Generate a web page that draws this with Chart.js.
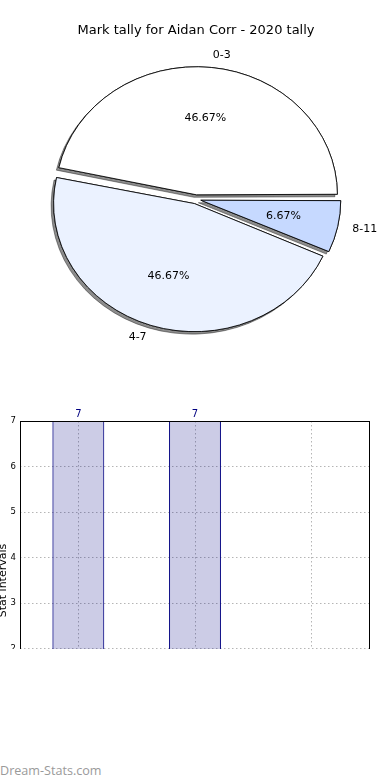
<!DOCTYPE html>
<html>
<head>
<meta charset="utf-8">
<script src="https://cdn.jsdelivr.net/npm/chart.js@4"></script>
<style>
  html, body { margin: 0; padding: 0; background: #fff; }
  body { width: 390px; height: 780px; position: relative; overflow: hidden; font-family: "DejaVu Sans", sans-serif; }
  #pieBox { position: absolute; left: 0; top: 0; width: 390px; height: 360px; }
  #barClip { position: absolute; left: 0; top: 380px; width: 390px; height: 269px; overflow: hidden; }
  #barBox { position: absolute; left: 0; top: 0; width: 390px; height: 400px; }
  #mark { position: absolute; left: 0; top: 762px; font: 12.6px "Open Sans", sans-serif; color: #9a9a9a; }
</style>
</head>
<body>
<div id="pieBox"><canvas id="pie"></canvas></div>
<div id="barClip"><div id="barBox"><canvas id="bar"></canvas></div></div>
<div id="mark">Dream-Stats.com</div>
<script>
const titleText = 'Mark tally for Aidan Corr - 2020 tally';
const categories = ['0-3', '4-7', '8-11'];
const tallies = [7, 7, 1];
const sliceColors = ['#ffffff', '#ebf2ff', '#c6d9ff'];
const yTicks = [0, 1, 2, 3, 4, 5, 6, 7];

// pie is squashed a little wider than tall
const stretchX = 1.1;
const total = tallies.reduce((a, b) => a + b, 0);

// matplotlib draws counter-clockwise from 3 o'clock; chart.js goes clockwise,
// so feed the slices reversed and start at 90 degrees
const rev = a => a.slice().reverse();

const ellipse = {
  id: 'ellipse',
  beforeDatasetsDraw(chart) {
    const ctx = chart.ctx;
    const a = chart.chartArea;
    const cx = (a.left + a.right) / 2;
    ctx.save();
    ctx.translate(cx, 0);
    ctx.scale(stretchX, 1);
    ctx.translate(-cx, 0);
    // shadow pass first, the normal pass then covers the inner part
    ctx.save();
    ctx.shadowColor = 'rgba(0,0,0,0.45)';
    ctx.shadowOffsetX = -2.5;
    ctx.shadowOffsetY = 2.5;
    ctx.shadowBlur = 0;
    chart.getDatasetMeta(0).data.forEach(arc => arc.draw(ctx));
    ctx.restore();
  },
  afterDatasetsDraw(chart) {
    chart.ctx.restore();
  },
  afterDraw(chart) {
    const ctx = chart.ctx;
    const meta = chart.getDatasetMeta(0);
    const a = chart.chartArea;
    const cx = (a.left + a.right) / 2;
    const vals = chart.data.datasets[0].data;
    const labs = chart.data.labels;
    ctx.save();
    ctx.fillStyle = '#000';
    ctx.font = '11px "DejaVu Sans"';
    ctx.textBaseline = 'middle';
    meta.data.forEach((arc, i) => {
      const mid = (arc.startAngle + arc.endAngle) / 2;
      const r = arc.outerRadius + 3.5;
      const off = 4.5;
      const ox = Math.cos(mid) * off, oy = Math.sin(mid) * off;
      const px = (x) => cx + (x - cx) * stretchX;
      // percentage
      ctx.textAlign = 'center';
      ctx.fillText((vals[i] / total * 100).toFixed(2) + '%',
        px(arc.x + ox + Math.cos(mid) * r * 0.6), arc.y + oy + Math.sin(mid) * r * 0.6);
      // category label
      const lx = px(arc.x + ox + Math.cos(mid) * r * 1.1);
      ctx.textAlign = Math.cos(mid) > 0 ? 'left' : 'right';
      ctx.fillText(labs[i], lx, arc.y + oy + Math.sin(mid) * r * 1.1);
    });
    ctx.restore();
  }
};

new Chart(document.getElementById('pie'), {
  type: 'pie',
  data: {
    labels: rev(categories),
    datasets: [{
      data: rev(tallies),
      backgroundColor: rev(sliceColors),
      borderColor: '#000',
      borderWidth: 0.8,
      offset: 18
    }]
  },
  options: {
    responsive: true,
    maintainAspectRatio: false,
    animation: false,
    rotation: 90,
    radius: 124.5,
    layout: { padding: { left: 2 } },
    plugins: {
      legend: { display: false },
      tooltip: { enabled: false },
      title: {
        display: true,
        text: titleText,
        color: '#000',
        font: { family: 'DejaVu Sans', size: 13, weight: 'normal' },
        padding: { top: 23, bottom: 0 }
      }
    }
  },
  plugins: [ellipse]
});

const frame = {
  id: 'frame',
  afterDraw(chart) {
    const ctx = chart.ctx;
    const a = chart.chartArea;
    ctx.save();
    ctx.strokeStyle = '#000';
    ctx.lineWidth = 1;
    ctx.strokeRect(a.left + 0.5, a.top + 0.5, a.right - a.left - 1, a.bottom - a.top);
    // value labels over the bars
    const meta = chart.getDatasetMeta(0);
    ctx.fillStyle = '#000080';
    ctx.font = '10px "DejaVu Sans"';
    ctx.textAlign = 'center';
    ctx.textBaseline = 'bottom';
    meta.data.forEach((bar, i) => {
      ctx.fillText(String(tallies[i]), bar.x, bar.y - 2);
    });
    ctx.restore();
  }
};

new Chart(document.getElementById('bar'), {
  type: 'bar',
  data: {
    labels: categories,
    datasets: [{
      data: tallies,
      backgroundColor: 'rgba(0,0,128,0.2)',
      borderColor: '#000080',
      borderWidth: 1,
      categoryPercentage: 1,
      barPercentage: 0.445
    }]
  },
  options: {
    responsive: true,
    maintainAspectRatio: false,
    animation: false,
    layout: { padding: { top: 41, right: 20, bottom: 40, left: 0 } },
    plugins: { legend: { display: false }, tooltip: { enabled: false } },
    scales: {
      x: {
        offset: true,
        grid: { offset: false, color: '#b5b5b5', lineWidth: 1, drawTicks: false },
        border: { display: false, dash: [1.5, 2.5] },
        ticks: { display: false }
      },
      y: {
        min: 0,
        max: 7,
        afterBuildTicks(s) { s.ticks = yTicks.map(v => ({ value: v })); },
        afterFit(s) { s.width = 20; },
        grid: { color: '#b5b5b5', lineWidth: 1, drawTicks: false },
        border: { display: false, dash: [1.5, 2.5] },
        ticks: { color: '#000', font: { family: 'DejaVu Sans', size: 8.5 }, padding: 4 },
        title: { display: true, text: 'Stat intervals', color: '#000', font: { family: 'DejaVu Sans', size: 11 }, padding: { top: -3, bottom: 0 } }
      }
    }
  },
  plugins: [frame]
});
</script>
</body>
</html>
